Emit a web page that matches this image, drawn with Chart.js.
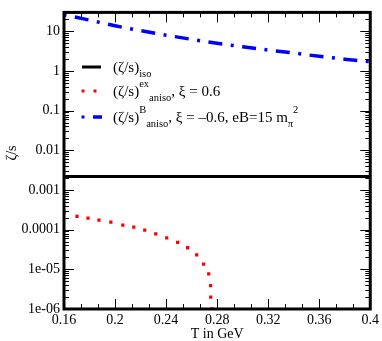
<!DOCTYPE html>
<html><head><meta charset="utf-8">
<script src="https://cdn.jsdelivr.net/npm/chart.js@4/dist/chart.umd.min.js"></script>
<style>html,body{margin:0;padding:0;background:#fff;}#wrap{width:382px;height:341px;}</style>
</head><body><div id="wrap"><canvas id="c" width="382" height="341"></canvas></div>
<script>
const xTicks = [0.16, 0.2, 0.24, 0.28, 0.32, 0.36, 0.4];
const xTickLabels = ['0.16', '0.2', '0.24', '0.28', '0.32', '0.36', '0.4'];
const yTicks = [1e-6, 1e-5, 1e-4, 1e-3, 1e-2, 0.1, 1, 10];
const yTickLabels = ['1e-06', '1e-05', '0.0001', '0.001', '0.01', '0.1', '1', '10'];

// (zeta/s)_iso
const isoT = [0.16, 0.40];
const isoV = [0.0022, 0.0022];

// (zeta/s)^ex_aniso, xi = 0.6
const exT = [0.160, 0.1702, 0.1788, 0.1874, 0.1967, 0.2061, 0.2147, 0.2233, 0.2319, 0.2405, 0.2491, 0.2569, 0.2640, 0.2694, 0.2734, 0.2749, 0.2750, 0.2757];
const exV = [2.72e-4, 2.17e-4, 1.94e-4, 1.73e-4, 1.55e-4, 1.30e-4, 1.16e-4, 9.8e-5, 7.8e-5, 6.2e-5, 4.8e-5, 3.5e-5, 2.3e-5, 1.35e-5, 7.7e-6, 3.9e-6, 2.0e-6, 1.0e-6];

// (zeta/s)^B_aniso, xi = -0.6, eB = 15 m_pi^2
const bT = [0.16, 0.18, 0.20, 0.22, 0.24, 0.26, 0.28, 0.30, 0.32, 0.34, 0.36, 0.38, 0.40];
const bV = [26.0, 19.2, 13.8, 10.4, 8.0, 6.28, 5.0, 4.07, 3.37, 2.84, 2.34, 1.99, 1.72];

const SERIF = '"Liberation Serif", "Times New Roman", serif';

function pts(xs, ys) { return xs.map((x, i) => ({ x: x, y: ys[i] })); }

function drawRich(ctx, x, y, parts) {
  for (const p of parts) {
    let size = 15, dy = 0;
    if (p.s === 'sub') { size = 10.5; dy = 5; }
    if (p.s === 'sup') { size = 10.5; dy = -9; }
    ctx.font = size + 'px ' + SERIF;
    ctx.fillText(p.t, x, y + dy);
    x += ctx.measureText(p.t).width;
  }
}

const frame = {
  id: 'frame',
  afterDatasetsDraw(chart) {
    const { ctx, chartArea: a, scales } = chart;
    const xs = scales.x, ys = scales.y;
    ctx.save();
    ctx.strokeStyle = '#000';
    ctx.lineWidth = 1;
    const seg = (x1, y1, x2, y2) => { ctx.beginPath(); ctx.moveTo(x1, y1); ctx.lineTo(x2, y2); ctx.stroke(); };
    // y ticks (log: majors at decades, minors 2..9)
    const lo = Math.floor(Math.log10(ys.min)), hi = Math.ceil(Math.log10(ys.max));
    for (let e = lo; e <= hi; e++) {
      for (let m = 1; m <= 9; m++) {
        const v = m * Math.pow(10, e);
        if (v < ys.min * 0.999 || v > ys.max * 1.001) continue;
        const py = Math.round(ys.getPixelForValue(v)) + 0.5;
        const len = m === 1 ? 10 : 5;
        seg(a.left, py, a.left + len, py);
        seg(a.right, py, a.right - len, py);
      }
    }
    // x ticks: majors + 2 minors between
    for (let i = 0; i < xTicks.length; i++) {
      const vals = [[xTicks[i], 10]];
      if (i < xTicks.length - 1) {
        const d = (xTicks[i + 1] - xTicks[i]) / 3;
        vals.push([xTicks[i] + d, 5], [xTicks[i] + 2 * d, 5]);
      }
      for (const [v, len] of vals) {
        const px = Math.round(xs.getPixelForValue(v)) + 0.5;
        seg(px, a.bottom, px, a.bottom - len);
        seg(px, a.top, px, a.top + len);
      }
    }
    ctx.lineWidth = 3;
    ctx.strokeRect(a.left, a.top, a.right - a.left, a.bottom - a.top);

    // legend
    const lx = a.left + 18;
    const rows = [67, 91, 117];
    ctx.lineWidth = 3;
    seg(lx, rows[0], lx + 19, rows[0]);
    ctx.fillStyle = '#ff0000';
    ctx.fillRect(lx - 0.5, rows[1] - 1.5, 3, 3);
    ctx.fillRect(lx + 11.5, rows[1] - 1.5, 3, 3);
    ctx.fillStyle = '#0000ff';
    ctx.fillRect(lx - 0.5, rows[2] - 1.5, 3, 3);
    ctx.fillRect(lx + 11, rows[2] - 1.75, 9, 3.5);

    ctx.fillStyle = '#000';
    ctx.textBaseline = 'alphabetic';
    ctx.textAlign = 'left';
    const tx = lx + 31;
    drawRich(ctx, tx, rows[0] + 4.5, [{ t: '(ζ/s)' }, { t: 'iso', s: 'sub' }]);
    drawRich(ctx, tx, rows[1] + 4.5, [{ t: '(ζ/s)' }, { t: 'ex', s: 'sup' }, { t: 'aniso', s: 'sub' }, { t: ', ξ = 0.6' }]);
    drawRich(ctx, tx, rows[2] + 4.5, [{ t: '(ζ/s)' }, { t: 'B', s: 'sup' }, { t: 'aniso', s: 'sub' }, { t: ', ξ = –0.6, eB=15 m' }, { t: 'π', s: 'sub' }, { t: '2', s: 'sup' }]);

    // axis titles
    ctx.font = '14px ' + SERIF;
    ctx.textAlign = 'center';
    ctx.textBaseline = 'middle';
    ctx.fillText('T in GeV', (a.left + a.right) / 2, 334);
    ctx.save();
    ctx.translate(12, 153);
    ctx.rotate(-Math.PI / 2);
    ctx.fillText('ζ/s', 0, 0);
    ctx.restore();
    ctx.restore();
  }
};

new Chart(document.getElementById('c'), {
  type: 'line',
  data: {
    datasets: [
      { label: '(ζ/s)iso', data: pts(isoT, isoV), borderColor: '#000', borderWidth: 3, pointRadius: 0, fill: false },
      { label: '(ζ/s)ex aniso, ξ = 0.6', data: pts(exT, exV), showLine: false, pointStyle: 'rect', pointRadius: 2.3, pointBorderWidth: 0, pointBackgroundColor: '#ff0000', borderColor: '#ff0000' },
      { label: '(ζ/s)B aniso, ξ = –0.6, eB=15 mπ2', data: pts(bT, bV), borderColor: '#0000ff', borderWidth: 3.5, borderDash: [14, 8.5, 3, 8.5], borderDashOffset: 23, borderCapStyle: 'butt', pointRadius: 0, cubicInterpolationMode: 'monotone', fill: false }
    ]
  },
  options: {
    responsive: false,
    devicePixelRatio: 1,
    animation: false,
    layout: { padding: { top: 5, right: 11, left: 0, bottom: 0 } },
    plugins: { legend: { display: false }, tooltip: { enabled: false } },
    scales: {
      x: {
        type: 'linear', min: 0.16, max: 0.4,
        grid: { display: false, drawTicks: false }, border: { display: false },
        afterBuildTicks: s => { s.ticks = xTicks.map(v => ({ value: v })); },
        afterFit: s => { s.height = 32; },
        ticks: { autoSkip: false, maxRotation: 0, padding: 3, color: '#000', font: { family: SERIF, size: 14 },
          callback: (v) => { const i = xTicks.findIndex(t => Math.abs(t - v) < 1e-9); return i >= 0 ? xTickLabels[i] : ''; } }
      },
      y: {
        type: 'logarithmic', min: 1e-6, max: 30,
        grid: { display: false, drawTicks: false }, border: { display: false },
        afterBuildTicks: s => { s.ticks = yTicks.map(v => ({ value: v })); },
        afterFit: s => { s.width = 64; },
        ticks: { autoSkip: false, padding: 4, color: '#000', font: { family: SERIF, size: 14 },
          callback: (v) => { const i = yTicks.findIndex(t => Math.abs(Math.log10(t) - Math.log10(v)) < 1e-6); return i >= 0 ? yTickLabels[i] : ''; } }
      }
    }
  },
  plugins: [frame]
});
</script>
</body></html>
